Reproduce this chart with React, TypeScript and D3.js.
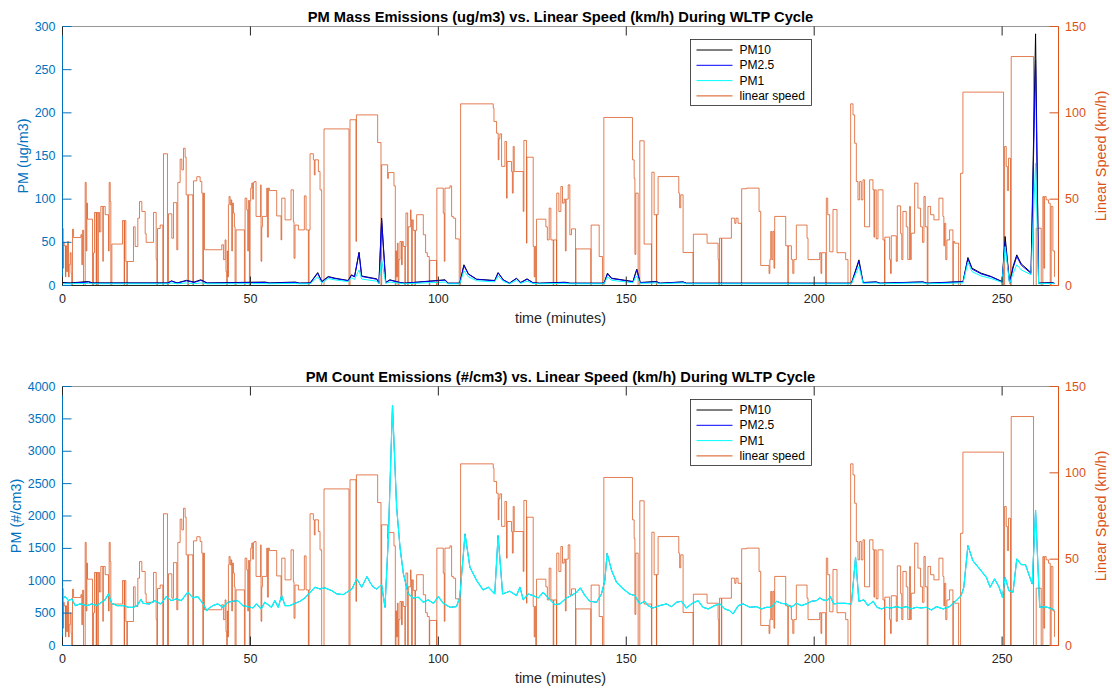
import React from 'react';
import * as d3 from 'd3';

const W = 1112;
const H = 690;
const X0 = 62.5;
const X1 = 1058.5;
const PLOT_H = 259;
const T_MAX = 265;

const LEFT_COLOR = '#0072BD';
const RIGHT_COLOR = '#D95319';
const AXIS_COLOR = '#262626';
const FONT = '"Liberation Sans", Arial, Helvetica, sans-serif';

const timeTicks = [0, 50, 100, 150, 200, 250];
const speedTicks = [0, 50, 100, 150];
const massTicks = [0, 50, 100, 150, 200, 250, 300];
const countTicks = [0, 500, 1000, 1500, 2000, 2500, 3000, 3500, 4000];
const legendLabels = ['PM10', 'PM2.5', 'PM1', 'linear speed'];
const seriesColors = ['#000000', '#0000FF', '#00FFFF', RIGHT_COLOR];

// Vehicle speed over the cycle: [minute, km/h], held until the next entry.
const speedSteps: [number, number][] = [
  [0, 33], [0.2, 10], [0.3, 25], [0.45, 23], [0.8, 5], [0.9, 23], [1.1, 8], [1.34, 25.5], [1.6, 5], [1.78, 12],
  [2.05, 19], [2.3, 7], [2.45, 0], [2.67, 32.6], [2.94, 27.8], [4.89, 29.4], [5.15, 12], [5.3, 32], [5.6, 0],
  [6.04, 59.7], [6.3, 20], [6.48, 47.7], [6.66, 38.4], [7.99, 0], [8.26, 19], [8.52, 42.3], [8.96, 0], [9.05, 42.3],
  [9.41, 0], [9.5, 42.3], [9.85, 31], [10.2, 45.8], [10.74, 14], [10.85, 45.8], [11.36, 41], [12.24, 20],
  [12.42, 59.7], [12.69, 48.6], [12.86, 0], [13.13, 24], [15.97, 37.6], [16.41, 0], [16.5, 37.6], [16.85, 13.9],
  [17.12, 0], [17.25, 13.9], [18.89, 34], [19.33, 22.6], [20.04, 39], [20.49, 48.6], [21.11, 42.9], [22, 30],
  [22.26, 25], [24.21, 42.3], [24.92, 15], [25.1, 0], [25.28, 33], [25.99, 35], [26.69, 0], [26.87, 76.3],
  [27.93, 0], [28.2, 41.5], [29.09, 27.4], [29.53, 48], [30.41, 20.7], [30.68, 59.7], [31.3, 73.2], [31.75, 67],
  [32.19, 79.5], [32.63, 74.3], [32.9, 52.5], [33.34, 0], [33.5, 52.5], [34.67, 0], [34.85, 60.6], [35.73, 63],
  [36.62, 60.2], [37.06, 53.5], [37.33, 0], [37.5, 53.5], [37.77, 20.7], [42.38, 23.6], [42.82, 15], [43.26, 26.4],
  [43.5, 8], [43.7, 0], [43.85, 20], [44.0, 5], [44.15, 46.7], [44.32, 51.5], [44.6, 46.7], [44.86, 49.6],
  [45.03, 20], [45.21, 47.7], [45.48, 41.9], [45.74, 34], [45.92, 0], [46.18, 32.2], [48.4, 0], [48.58, 50.6],
  [49.02, 43.8], [49.29, 20], [49.46, 49.2], [49.73, 0], [49.91, 49.2], [50.08, 56.4], [50.35, 59.3], [50.6, 50],
  [50.79, 59.7], [51.06, 60.2], [51.5, 40], [52.74, 58.3], [52.83, 14], [53.01, 34], [53.19, 40], [54.34, 56.4],
  [54.52, 28], [54.78, 56.4], [55.05, 55], [56.99, 40.3], [58.15, 26.4], [58.33, 50.6], [59.21, 38], [60.81, 55.4],
  [61.43, 37], [61.6, 15.8], [61.87, 35], [62.76, 32.2], [64.35, 51.9], [64.8, 32.2], [65.42, 0], [65.6, 32.2],
  [65.86, 76.3], [66.75, 72.8], [67.0, 64], [67.2, 72.8], [68.08, 66], [68.52, 55.4], [68.96, 0], [69.58, 90.7],
  [76.23, 0], [76.5, 96], [78.09, 25.5], [78.2, 98.8], [83.85, 82.8], [84.74, 0], [84.92, 69.9], [86.51, 62],
  [86.69, 65.4], [88.19, 57.7], [88.55, 0], [88.73, 20], [88.9, 5], [89.1, 24.5], [89.3, 0], [89.5, 15],
  [89.79, 25.5], [90.2, 12], [90.4, 25.5], [90.68, 22.6], [91.12, 0], [91.2, 22.6], [91.38, 42], [91.83, 0],
  [92.0, 34], [92.63, 43.8], [92.71, 38], [92.89, 0], [93.07, 38], [93.33, 31.9], [93.78, 0], [93.9, 31.9],
  [94.22, 41], [96.0, 29.4], [96.61, 19], [97.06, 16.8], [97.59, 0], [97.7, 14.5], [99.54, 0], [99.6, 56.4],
  [101.31, 41.9], [101.58, 14], [101.75, 56.4], [103.08, 57.7], [103.53, 40], [103.97, 39], [104.59, 27],
  [105.56, 0], [105.92, 105.2], [114.6, 102.7], [114.8, 95], [115.49, 88.2], [115.93, 72.8], [116.1, 85],
  [116.38, 87.8], [116.82, 69], [117.71, 83.4], [118.15, 50.6], [118.3, 71.8], [119.48, 66], [119.7, 53.5],
  [119.92, 80.5], [120.19, 66], [122.58, 42.9], [122.76, 84], [123.47, 24.5], [123.55, 74.3], [125.24, 22.6],
  [125.5, 5], [125.7, 22.6], [125.9, 0], [126.13, 38.4], [128.61, 34], [129.0, 26.4], [129.49, 44.8],
  [129.94, 26.4], [130.56, 0], [130.7, 26.4], [131.44, 0], [131.5, 53.5], [132.06, 42.9], [132.6, 57.3],
  [133.04, 47.7], [133.48, 50], [133.8, 20], [134.0, 50], [134.55, 58.3], [134.99, 29.4], [135.43, 32.8],
  [136.5, 0], [136.6, 21.2], [140.57, 0], [140.65, 35], [142.79, 16.8], [143.67, 0], [144.03, 97.3],
  [151.65, 72.8], [152.09, 62], [152.3, 18], [152.54, 53.5], [153.16, 0], [153.6, 83.8], [154.75, 24],
  [156.7, 0], [156.8, 65.6], [157.41, 41], [158.03, 0], [158.1, 41], [158.47, 63.1], [163.97, 53.5], [164.2, 45],
  [164.5, 52.5], [165.12, 19.1], [167.78, 0], [167.85, 29.7], [171.5, 24.5], [174.43, 15], [174.6, 0],
  [174.8, 27.4], [175.31, 0], [175.4, 27.4], [177.97, 39], [178.86, 36], [179.2, 39], [179.74, 36], [180.63, 0],
  [180.7, 56], [181.96, 56.4], [185.33, 42.9], [185.77, 11.6], [187.99, 7], [188.2, 15], [188.43, 31.3],
  [188.7, 15], [189.0, 31.3], [189.3, 10], [189.49, 40], [192.42, 23], [193.0, 0], [193.1, 23], [193.93, 15],
  [194.3, 7], [194.6, 15], [195.25, 35], [198.09, 27.4], [198.36, 15], [201.46, 19], [201.8, 7], [202.0, 19],
  [203.05, 0], [203.23, 50.6], [203.6, 41], [204.12, 19.5], [205.0, 44], [206.07, 19], [208.37, 15], [208.99, 0],
  [209.7, 105.2], [210.32, 98.8], [210.76, 82.4], [211.21, 60.2], [211.65, 49.6], [212.09, 60.2], [212.54, 49.6],
  [212.98, 61.2], [213.4, 34], [214.75, 61.2], [215.64, 55.4], [215.9, 28], [216.08, 55.4], [216.5, 27],
  [216.97, 55.4], [218.3, 26.4], [218.74, 0], [218.8, 28], [220.07, 15], [220.3, 7], [220.51, 28.8], [221.84, 14],
  [222.11, 46.1], [223.0, 30], [223.3, 15], [223.61, 42.9], [224.5, 34], [224.9, 15], [225.39, 45.8], [225.6, 15],
  [225.83, 30.3], [226.72, 59.3], [227.6, 44.8], [228.31, 34], [228.8, 25], [229.2, 51.5], [229.55, 34],
  [230.08, 0], [230.26, 45.8], [230.97, 41], [231.86, 38], [233.19, 50.6], [234.25, 40], [234.5, 23], [234.69, 36],
  [235.0, 15], [235.31, 26.4], [236.02, 32.2], [236.91, 0], [237.0, 25.5], [237.35, 24.5], [238.42, 0],
  [238.95, 65], [239.57, 112], [250.38, 0], [250.65, 80.5], [251.09, 69], [251.4, 55], [251.71, 73.7],
  [252.24, 0], [252.42, 132.6], [258.36, 0], [259.07, 33.2], [260.4, 0], [260.84, 51.5], [261.1, 10],
  [261.3, 51.5], [261.73, 49.6], [262.35, 47.7], [262.8, 0], [263.05, 45.8], [263.5, 20], [263.94, 5],
];

// Particle mass concentration (ug/m3)
const massTime = [
  0, 2, 6.9, 8, 28, 29, 30.5, 33, 35, 36.8, 38.5, 53.9, 55, 61.9, 63, 65.9, 67.9, 69, 70.7, 72.5, 76, 76.9, 77.7,
  78.9, 79.6, 83.6, 84.2, 84.9, 86, 87.1, 89.8, 91, 101.8, 102.6, 105.7, 106.8, 108, 110.2, 115, 115.9, 117.3,
  118.9, 120.8, 121.9, 123.6, 125.2, 127, 133.7, 135, 144.1, 145, 146.1, 151.8, 152.3, 152.8, 153.7, 158, 159,
  165.1, 166, 209.9, 211.9, 213, 216.5, 217.5, 228.9, 230, 239.6, 240.9, 242, 244.4, 247.1, 250, 250.8, 252,
  252.9, 253.9, 255.1, 257.7, 258.9, 259.7, 263, 263.9,
];
const pm10Mass = [
  3.5, 3, 4.6, 3, 3, 5.4, 3, 6, 4, 6.6, 3, 4, 3, 4, 2.8, 3, 15, 4.6, 10.4, 8.5, 5.8, 12.4, 10.4,
  38.6, 11, 7.7, 2.7, 78, 3.5, 6.6, 3.5, 2.7, 6.6, 2.7, 2.7, 24, 13.5, 7.3, 5.8, 15, 6.6,
  2.7, 8.5, 3.5, 7.7, 3.2, 2.7, 3.8, 2.7, 2.7, 14.3, 8.5, 4.6, 12.4, 19, 3.5, 4.6, 2.7,
  4.2, 2.7, 2.7, 29.7, 3.5, 4.2, 2.7, 4.2, 2.7, 4.6, 32.4, 20, 14.3, 10.4, 4.6, 56.8, 2.7,
  22, 35.5, 25, 15, 291.5, 2.7, 3.5, 2.7,
];
const pm25Mass = [
  3, 2.5, 4, 2.7, 2.7, 5, 2.7, 5.5, 3.5, 6, 2.7, 3.5, 2.7, 3.5, 2.6, 2.8, 14, 4.3, 9.8, 8, 5.5, 11.8, 10,
  37.5, 10.5, 7.2, 2.6, 76, 3.3, 6.2, 3.3, 2.6, 6.2, 2.5, 2.5, 23, 13, 7, 5.5, 14.5, 6.3,
  2.6, 8, 3.2, 7.2, 3, 2.5, 3.5, 2.5, 2.5, 13.5, 8, 4.3, 11.5, 18, 3.2, 4.2, 2.5,
  4, 2.5, 2.5, 28, 3.2, 4, 2.5, 4, 2.5, 4.3, 31, 19, 13.5, 10, 4.2, 51, 2.5,
  20, 33.6, 23.5, 14, 261, 2.5, 3, 2.5,
];
const pm1Mass = [
  2, 2, 2.5, 2, 2, 3, 2, 3, 2, 3, 2, 2.2, 2, 2.5, 2, 2, 10, 3, 8, 6.5, 4.5, 9, 7,
  18, 7.5, 5, 2, 30, 2.5, 4, 2.5, 2, 4, 2, 2, 17, 10, 5.5, 4.2, 11, 4.8,
  2, 6, 2.5, 5, 2.3, 2, 2.5, 2, 2, 10, 6, 3.2, 8, 11, 2.5, 3, 2,
  3, 2, 2, 22, 2.5, 3, 2, 3, 2, 3, 27, 16, 11, 8, 3.5, 45, 2,
  14, 24, 18, 12.4, 141.7, 2, 2.5, 2,
];

// Particle number concentration (#/cm3)
const countTime = [
  0, 0.7, 1.6, 2.5, 3.4, 4.7, 6.5, 7.8, 9.1, 10, 11.3, 12.2, 13.1, 14.5, 16.2, 17.6, 18.9, 19.8, 20.9, 21.4,
  23.1, 24.4, 26.2, 27.6, 28.9, 30.3, 31.6, 33.3, 34.7, 36, 37.3, 38.4, 38.7, 40, 41.3, 42.7, 44, 45.3, 46.6,
  48, 49.3, 50.7, 51.6, 52.9, 53.8, 55.6, 56.5, 57.4, 58.3, 59.2, 60.5, 61.9, 63.2, 64.5, 65.9, 67.2, 68.5,
  69.8, 71.6, 73, 74.7, 77, 78.3, 79.6, 81, 81.8, 82.7, 83.6, 84.9, 85.8, 86.7, 87.8, 88.9, 89.8, 90.7, 92,
  93.3, 94.7, 96, 97.3, 98.7, 100, 101.3, 103.1, 104.8, 105.7, 107.1, 108.4, 110.2, 111.9, 113.3, 115, 115.9,
  117.1, 119, 120.8, 121.7, 122.6, 123.9, 125.2, 126.6, 127.9, 129.7, 131, 132.3, 134.1, 135.4, 136.8, 137.8,
  139, 140.3, 142.1, 143.4, 144.3, 144.9, 146.1, 147.4, 149.2, 150.9, 152.3, 153.6, 154.9, 155.8, 157.1, 158.9,
  160.7, 162, 163.4, 164.7, 166, 167.3, 169.1, 170.4, 171.8, 173.5, 174.9, 176.2, 177.5, 178.4, 179.8, 181.1,
  182.9, 184.6, 186, 187.3, 188.6, 190, 191.3, 192.6, 193.9, 195.3, 196.6, 197.9, 199.3, 200.6, 201.5, 202.4,
  203.4, 204.3, 205.2, 206.3, 208.1, 209.9, 211, 211.9, 213.2, 214.3, 215.7, 216.7, 217.9, 219.2, 220.5, 221.9,
  223.2, 224.5, 225.8, 227.2, 228.5, 229.8, 231.2, 232.5, 234.3, 236, 237.8, 239.1, 239.8, 240.9, 242.2, 244,
  245.8, 246.8, 248, 249.2, 250.1, 250.8, 251.8, 252.9, 253.9, 255.1, 256.2, 258, 258.9, 260, 261.3, 262.6,
  263.9,
];
const pm1Count = [
  719, 755, 693, 719, 615, 642, 616, 642, 616, 652, 704, 796, 652, 616, 616, 590, 590, 616, 712, 652,
  642, 693, 642, 755, 693, 719, 693, 822, 735, 755, 652, 539, 565, 616, 642, 590, 668, 683, 693,
  616, 600, 580, 642, 565, 668, 590, 693, 590, 771, 616, 616, 652, 683, 735, 822, 900, 873,
  890, 848, 796, 786, 873, 1028, 900, 1064, 977, 900, 873, 940, 590, 1671, 3705, 2135, 1517, 1105, 796,
  735, 745, 668, 704, 652, 755, 652, 590, 600, 745, 1723, 1208, 1002, 858, 900, 796, 1697,
  796, 838, 771, 900, 704, 796, 771, 735, 822, 704, 632, 642, 735, 771, 822, 889,
  771, 683, 668, 796, 1002, 1424, 1157, 977, 873, 796, 771, 642, 683, 616, 580, 616,
  642, 600, 668, 683, 580, 642, 693, 590, 565, 616, 642, 565, 539, 488, 616, 642,
  590, 600, 565, 590, 590, 683, 652, 642, 590, 652, 616, 642, 683, 693, 735, 704,
  693, 755, 642, 652, 652, 642, 1363, 683, 704, 616, 683, 590, 565, 590, 580, 600,
  580, 600, 565, 590, 580, 590, 549, 600, 565, 600, 693, 771, 900, 1543, 1311, 1183,
  1054, 900, 1028, 900, 745, 1054, 848, 822, 1337, 1249, 1249, 951, 2083, 590, 600, 580,
  549,
];
// Nearly every counted particle is below 1 um, so the larger size cuts share the PM1 counts.
const pm25Count = pm1Count;
const pm10Count = pm1Count;

type PanelProps = {
  id: string;
  top: number;
  title: string;
  yLabel: string;
  yLabelX: number;
  yMax: number;
  yTicks: number[];
  times: number[];
  series: number[][];
  widths: number[];
};

function Panel({ id, top, title, yLabel, yLabelX, yMax, yTicks, times, series, widths }: PanelProps) {
  const bottom = top + PLOT_H;
  const x = d3.scaleLinear().domain([0, T_MAX]).range([X0, X1]);
  const yL = d3.scaleLinear().domain([0, yMax]).range([bottom, top]);
  const yR = d3.scaleLinear().domain([0, 150]).range([bottom, top]);

  const speedPath = d3
    .line<[number, number]>()
    .x((d) => x(d[0]))
    .y((d) => yR(d[1]))
    .curve(d3.curveStepAfter)(speedSteps) as string;

  const pmPath = (vals: number[]) =>
    d3
      .line<number>()
      .x((_, i) => x(times[i]))
      .y((v) => yL(v))(vals) as string;

  const legendTop = top + 13;
  const legendX = 690.5;
  const midY = (top + bottom) / 2;
  const midX = (X0 + X1) / 2;

  return (
    <g>
      <defs>
        <clipPath id={`clip-${id}`}>
          <rect x={X0} y={top} width={X1 - X0} height={PLOT_H} />
        </clipPath>
      </defs>
      <rect x={X0} y={top} width={X1 - X0} height={PLOT_H} fill="#fff" />

      <g clipPath={`url(#clip-${id})`}>
        <path d={speedPath} fill="none" stroke={RIGHT_COLOR} strokeWidth={0.75} />
        {series.map((vals, i) => (
          <path key={i} d={pmPath(vals)} fill="none" stroke={seriesColors[i]} strokeWidth={widths[i]} strokeLinejoin="round" />
        ))}
      </g>

      {/* frame */}
      <line x1={X0} x2={X1} y1={top} y2={top} stroke={AXIS_COLOR} strokeWidth={0.8} strokeOpacity={0.6} />
      <line x1={X0} x2={X1} y1={bottom} y2={bottom} stroke={AXIS_COLOR} strokeWidth={1} />
      <line x1={X0} x2={X0} y1={top} y2={bottom} stroke={LEFT_COLOR} strokeWidth={1} />
      <line x1={X1} x2={X1} y1={top} y2={bottom} stroke={RIGHT_COLOR} strokeWidth={1} />

      {/* time ticks */}
      {timeTicks.map((t) => (
        <g key={t}>
          <line x1={x(t)} x2={x(t)} y1={bottom} y2={bottom - 9} stroke={AXIS_COLOR} strokeWidth={1} />
          <line x1={x(t)} x2={x(t)} y1={top} y2={top + 9} stroke={AXIS_COLOR} strokeWidth={1} />
          <text x={x(t)} y={bottom + 13.5} textAnchor="middle" dominantBaseline="central" fontSize={12.5} fill={AXIS_COLOR} fontFamily={FONT}>
            {t}
          </text>
        </g>
      ))}

      {/* left (PM) axis */}
      {yTicks.map((v) => (
        <g key={v}>
          <line x1={X0} x2={X0 + 9} y1={yL(v)} y2={yL(v)} stroke={LEFT_COLOR} strokeWidth={1} />
          <text x={55.5} y={yL(v)} textAnchor="end" dominantBaseline="central" fontSize={12.5} fill={LEFT_COLOR} fontFamily={FONT}>
            {v}
          </text>
        </g>
      ))}

      {/* right (speed) axis */}
      {speedTicks.map((v) => (
        <g key={v}>
          <line x1={X1} x2={X1 - 9} y1={yR(v)} y2={yR(v)} stroke={RIGHT_COLOR} strokeWidth={1} />
          <text x={1065} y={yR(v)} textAnchor="start" dominantBaseline="central" fontSize={12.5} fill={RIGHT_COLOR} fontFamily={FONT}>
            {v}
          </text>
        </g>
      ))}

      <text x={midX} y={top - 10} textAnchor="middle" dominantBaseline="central" fontSize={14.7} fontWeight="bold" fill="#000" fontFamily={FONT}>
        {title}
      </text>
      <text x={midX} y={bottom + 32} textAnchor="middle" dominantBaseline="central" fontSize={14.4} fill={AXIS_COLOR} fontFamily={FONT}>
        time (minutes)
      </text>
      <text
        transform={`translate(${yLabelX},${midY}) rotate(-90)`}
        textAnchor="middle"
        dominantBaseline="central"
        fontSize={14.4}
        fill={LEFT_COLOR}
        fontFamily={FONT}
      >
        {yLabel}
      </text>
      <text
        transform={`translate(1101,${midY}) rotate(-90)`}
        textAnchor="middle"
        dominantBaseline="central"
        fontSize={14.4}
        fill={RIGHT_COLOR}
        fontFamily={FONT}
      >
        Linear Speed (km/h)
      </text>

      {/* legend */}
      <rect x={legendX} y={legendTop} width={121} height={66} fill="#fff" stroke={AXIS_COLOR} strokeWidth={0.8} />
      {legendLabels.map((label, i) => {
        const ly = legendTop + 10.5 + i * 15.3;
        return (
          <g key={label}>
            <line x1={legendX + 6} x2={legendX + 42} y1={ly} y2={ly} stroke={seriesColors[i]} strokeWidth={1} />
            <text x={legendX + 49} y={ly} dominantBaseline="central" fontSize={12} fill="#000" fontFamily={FONT}>
              {label}
            </text>
          </g>
        );
      })}
    </g>
  );
}

export default function App() {
  return (
    <svg
      width={W}
      height={H}
      viewBox={`0 0 ${W} ${H}`}
      style={{ position: 'absolute', left: 0, top: 0, background: '#fff' }}
    >
      <rect width={W} height={H} fill="#fff" />
      <Panel
        id="mass"
        top={26.5}
        title="PM Mass Emissions (ug/m3) vs. Linear Speed (km/h) During WLTP Cycle"
        yLabel="PM (ug/m3)"
        yLabelX={22.5}
        yMax={300}
        yTicks={massTicks}
        times={massTime}
        series={[pm10Mass, pm25Mass, pm1Mass]}
        widths={[1, 1, 1]}
      />
      <Panel
        id="count"
        top={386.5}
        title="PM Count Emissions (#/cm3) vs. Linear Speed (km/h) During WLTP Cycle"
        yLabel="PM (#/cm3)"
        yLabelX={16}
        yMax={4000}
        yTicks={countTicks}
        times={countTime}
        series={[pm10Count, pm25Count, pm1Count]}
        widths={[0.4, 0.4, 1.2]}
      />
    </svg>
  );
}
